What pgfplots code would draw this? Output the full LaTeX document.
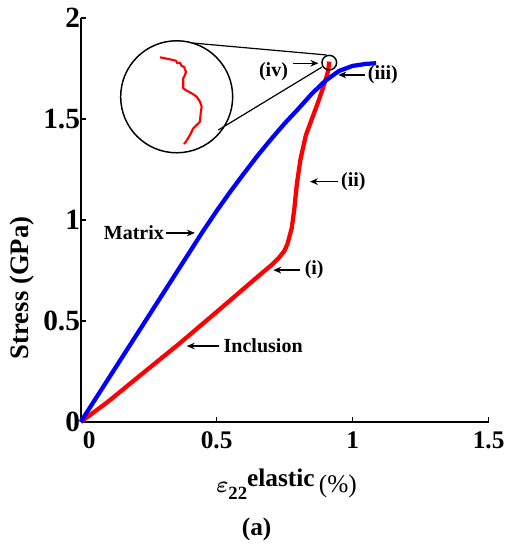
\documentclass[border=0pt]{standalone}
\usepackage{amsmath}
\usepackage{pgfplots}
\pgfplotsset{compat=1.18}
\usepackage{fontspec}
\setmainfont{Liberation Serif}
\usetikzlibrary{arrows.meta}

\definecolor{matrixblue}{RGB}{0,0,255}
\definecolor{inclred}{RGB}{255,0,0}

\begin{document}
\begin{tikzpicture}
\path[use as bounding box] (-60.5pt,-91.5pt) rectangle (320.5pt,316.5pt);
\begin{axis}[
  scale only axis,
  width=306pt, height=303pt,
  xmin=0, xmax=1.5, ymin=0, ymax=2,
  axis x line*=bottom, axis y line*=left,
  axis line style={line width=1.5pt, -},
  xtick={0,0.5,1,1.5}, ytick={0,0.5,1,1.5,2},
  xticklabels={\hspace*{13pt}0,0.5,1,1.5},
  tick align=inside,
  major tick length=4pt,
  tick style={line width=1.2pt, black},
  /pgf/number format/assume math mode=true,
  xticklabel style={font=\fontsize{19}{22}\selectfont\bfseries, yshift=-4pt},
  yticklabel style={font=\fontsize{22}{26}\selectfont\bfseries, xshift=3pt},
  clip=false,
]
% inclusion (red) and matrix (blue) stress-strain curves
\addplot[inclred, line width=3.2pt, line join=round] coordinates {
  (0,0) (0.10,0.10) (0.20,0.21) (0.36,0.385) (0.50,0.545) (0.66,0.73)
  (0.70,0.775) (0.73,0.815) (0.748,0.845) (0.760,0.88) (0.768,0.92)
  (0.776,0.96) (0.785,1.05) (0.795,1.18) (0.808,1.30) (0.828,1.42)
  (0.850,1.50) (0.872,1.58) (0.890,1.65) (0.902,1.70) (0.910,1.74)
  (0.914,1.784)
};
\addplot[matrixblue, line width=3.2pt, line join=round] coordinates {
  (0,0) (0.20,0.42) (0.40,0.84) (0.45,0.945) (0.50,1.045) (0.55,1.14)
  (0.60,1.23) (0.65,1.318) (0.70,1.40) (0.75,1.478) (0.80,1.55)
  (0.85,1.625) (0.90,1.69) (0.95,1.738) (1.00,1.763) (1.05,1.773)
  (1.086,1.776)
};
% magnified detail of the inclusion path near point (iv)
\addplot[inclred, line width=1.6pt, line join=round] coordinates {
  (0.2915,1.8054) (0.3283,1.7955) (0.3504,1.7886) (0.3551,1.7757)
  (0.3651,1.7787) (0.3713,1.7624) (0.3798,1.7589) (0.3871,1.7342)
  (0.3835,1.7178) (0.3772,1.7015) (0.3772,1.6520) (0.3919,1.6386)
  (0.4081,1.6272) (0.4265,1.6104) (0.4386,1.5856) (0.4449,1.5609)
  (0.4412,1.5282) (0.4386,1.4866) (0.4265,1.4703) (0.4140,1.4540)
  (0.4018,1.4208) (0.3871,1.3876) (0.3798,1.3762)
};
% zoom circles and connecting lines
\draw[line width=1.1pt] (axis cs:0.353,1.610) circle[radius=42pt];
\draw[line width=1.1pt] (axis cs:0.914,1.779) circle[radius=5.5pt];
\draw[line width=0.9pt] (axis cs:0.413,1.876) -- (axis cs:0.904,1.817);
\draw[line width=0.9pt] (axis cs:0.506,1.4455) -- (axis cs:0.887,1.757);
% annotations
\tikzset{lab/.style={font=\fontsize{15}{18}\selectfont\bfseries, inner sep=1pt},
         arr/.style={line width=0.9pt, -{Stealth[length=6pt,width=5pt]}}}
\draw[arr] (axis cs:0.315,0.936) -- (axis cs:0.420,0.936);
\node[lab, anchor=east] at (axis cs:0.312,0.936) {Matrix};
\draw[arr] (axis cs:0.51,0.376) -- (axis cs:0.39,0.376);
\node[lab, anchor=west] at (axis cs:0.52,0.376) {Inclusion};
\draw[arr] (axis cs:0.806,0.752) -- (axis cs:0.708,0.752);
\node[lab, anchor=west] at (axis cs:0.818,0.752) {(i)};
\draw[arr] (axis cs:0.947,1.19) -- (axis cs:0.843,1.19);
\node[lab, anchor=west] at (axis cs:0.952,1.19) {(ii)};
\draw[arr] (axis cs:1.045,1.718) -- (axis cs:0.947,1.718);
\node[lab, anchor=west] at (axis cs:1.05,1.718) {(iii)};
\draw[arr] (axis cs:0.779,1.776) -- (axis cs:0.874,1.776);
\node[lab, anchor=east] at (axis cs:0.768,1.733) {(iv)};
% axis titles
\node[rotate=90, font=\fontsize{20}{24}\selectfont\bfseries]
  at ([xshift=-44pt]rel axis cs:0,0.332) {Stress (GPa)};
\node[anchor=base, font=\fontsize{19}{22}\selectfont]
  at ([yshift=-53pt]axis cs:0.757,0)
  {$\boldsymbol{\varepsilon}$\raisebox{-5pt}{\fontsize{14}{16}\selectfont\bfseries 22}\raisebox{5pt}{\bfseries elastic}\,(\%)};
\node[anchor=base, font=\fontsize{19}{22}\selectfont\bfseries]
  at ([yshift=-85pt]axis cs:0.647,0) {(a)};
\end{axis}
\end{tikzpicture}
\end{document}
